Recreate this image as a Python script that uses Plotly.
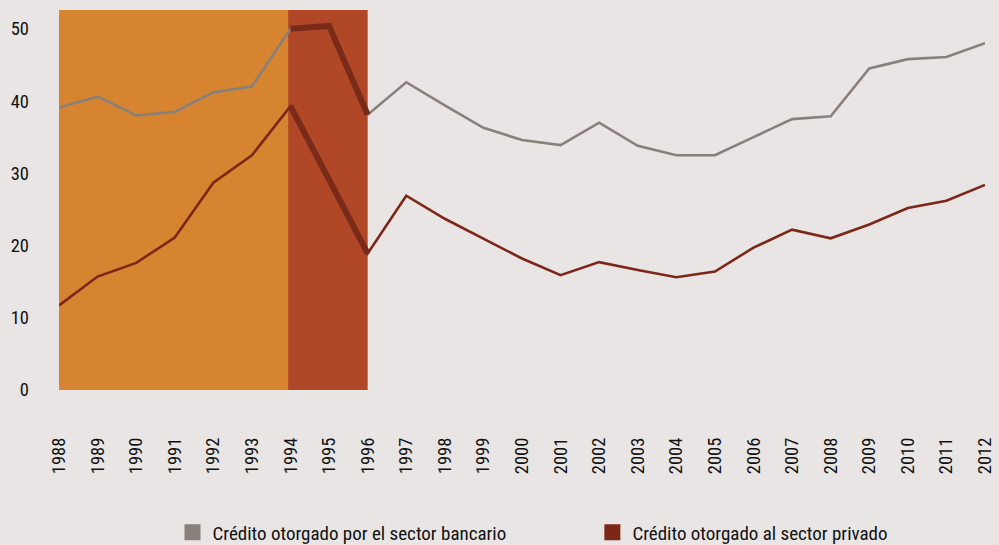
import plotly.graph_objects as go

years = list(range(1988, 2013))
banking = [39.1, 40.6, 38.0, 38.5, 41.2, 42.0, 50.0, 50.4, 38.1, 42.6, 39.4, 36.3, 34.6,
           33.9, 37.0, 33.8, 32.5, 32.5, 35.0, 37.5, 37.9, 44.5, 45.8, 46.1, 48.0]
private = [11.7, 15.7, 17.6, 21.1, 28.7, 32.5, 39.3, 29.3, 18.9, 26.9, 23.7, 21.0, 18.2,
           15.9, 17.7, 16.6, 15.6, 16.4, 19.7, 22.2, 21.0, 22.9, 25.2, 26.2, 28.4]
y_ticks = [0, 10, 20, 30, 40, 50]
series_names = ["Crédito otorgado por el sector bancario", "Crédito otorgado al sector privado"]
period_a = (1988, 1994)
period_b = (1994, 1996)

FONT = "Roboto Condensed, Liberation Sans, sans-serif"
BG = "#e8e5e4"
GRAY = "#8a807b"
RED = "#7d2718"
THICK = "#7a2a18"
TXT = "#111111"

fig = go.Figure()

fig.add_trace(go.Scatter(x=years, y=banking, mode="lines", line=dict(color=GRAY, width=2.6),
                         showlegend=False, hoverinfo="skip"))
fig.add_trace(go.Scatter(x=years, y=private, mode="lines", line=dict(color=RED, width=2.6),
                         showlegend=False, hoverinfo="skip"))

# highlighted segments over the 1994-1996 period
i0, i1 = years.index(period_b[0]), years.index(period_b[1]) + 1
fig.add_trace(go.Scatter(x=years[i0:i1], y=banking[i0:i1], mode="lines",
                         line=dict(color=THICK, width=6), showlegend=False, hoverinfo="skip"))
fig.add_trace(go.Scatter(x=years[i0:i1], y=private[i0:i1], mode="lines",
                         line=dict(color=THICK, width=6), showlegend=False, hoverinfo="skip"))

# legend entries (square swatches)
fig.add_trace(go.Scatter(x=[None], y=[None], mode="markers", name=series_names[0],
                         marker=dict(symbol="square", size=19, color=GRAY), legend="legend"))
fig.add_trace(go.Scatter(x=[None], y=[None], mode="markers", name=series_names[1],
                         marker=dict(symbol="square", size=19, color=RED), legend="legend2"))

fig.add_shape(type="rect", xref="x", yref="paper", x0=period_a[0], x1=period_a[1], y0=0, y1=1,
              fillcolor="#d6842f", line=dict(width=0), layer="below")
fig.add_shape(type="rect", xref="x", yref="paper", x0=period_b[0] - 0.06, x1=period_b[1], y0=0, y1=1,
              fillcolor="#b04726", line=dict(width=0), layer="below")

legend_common = dict(orientation="h", yanchor="top", y=-0.325, xanchor="left",
                     bgcolor="rgba(0,0,0,0)", borderwidth=0,
                     font=dict(family=FONT, size=19, color=TXT))
fig.update_layout(
    width=999, height=545,
    paper_bgcolor=BG, plot_bgcolor=BG,
    margin=dict(l=59, r=14, t=10, b=155, autoexpand=False),
    font=dict(family=FONT, size=18.5, color=TXT),
    legend=dict(x=0.1226, **legend_common),
    legend2=dict(x=0.576, **legend_common),
    xaxis=dict(range=[1988, 2012], tickmode="array", tickvals=years,
               ticktext=[str(y) for y in years], tickangle=-90, automargin=False,
               showgrid=False, zeroline=False, showline=False, ticks="",
               ticklabelstandoff=43, tickfont=dict(family=FONT, size=18.5, color=TXT)),
    yaxis=dict(range=[0, 52.6], tickmode="array", tickvals=y_ticks, automargin=False,
               showgrid=False, zeroline=False, showline=False, ticks="",
               ticklabelstandoff=29, tickfont=dict(family=FONT, size=18.5, color=TXT)),
)

fig.write_html(
    "out.html",
    config={"displayModeBar": False},
    post_script="document.body.style.margin='0';document.body.style.background='#e8e5e4';",
)
